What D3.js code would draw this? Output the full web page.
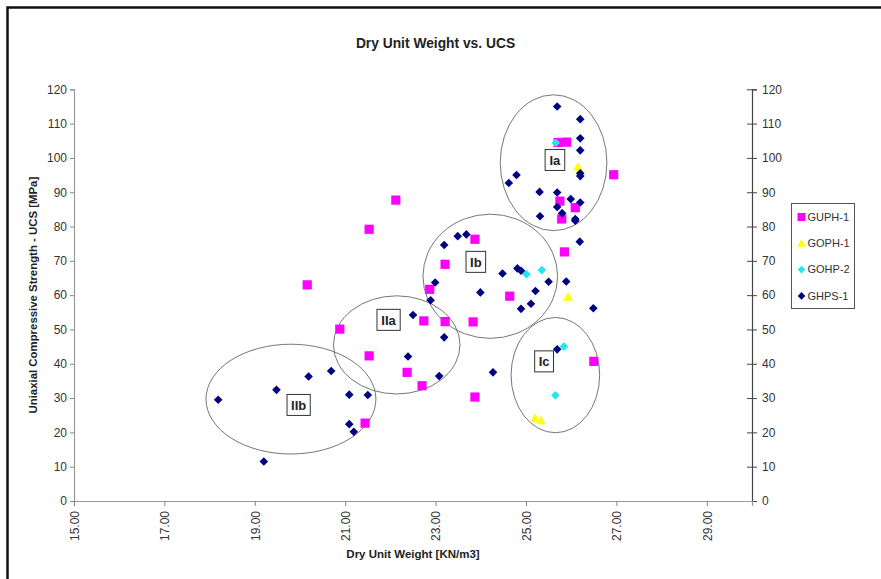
<!DOCTYPE html>
<html>
<head>
<meta charset="utf-8">
<script src="https://cdn.jsdelivr.net/npm/d3@7"></script>
<style>
  html, body { margin: 0; padding: 0; background: #fff; }
  svg { display: block; font-family: "Liberation Sans", Arial, sans-serif; }
</style>
</head>
<body>
<svg id="chart" width="881" height="579"></svg>
<script>
// ---- Data ----
const seriesNames = ["GUPH-1", "GOPH-1", "GOHP-2", "GHPS-1"];

const guph1 = [
  [20.16, 63.0], [21.53, 79.2], [22.12, 87.7], [22.87, 61.7], [23.21, 69.0],
  [23.87, 76.3], [20.88, 50.1], [21.53, 42.3], [21.44, 22.7], [22.37, 37.5],
  [22.70, 33.6], [22.74, 52.5], [23.21, 52.3], [23.83, 52.2], [23.87, 30.3],
  [24.64, 59.7], [25.71, 104.5], [25.90, 104.6], [26.94, 95.1], [25.75, 87.4],
  [26.09, 85.5], [25.79, 82.2], [25.85, 72.6], [26.50, 40.7]
];
const goph1 = [
  [26.15, 97.4], [25.93, 59.5], [25.20, 24.1], [25.33, 23.5]
];
const gohp2 = [
  [25.66, 104.4], [25.01, 66.1], [25.35, 67.3], [25.84, 45.0], [25.65, 30.8]
];
const ghps1 = [
  [25.69, 115.0], [26.20, 111.3], [26.20, 105.7], [26.20, 102.2], [26.20, 95.5],
  [26.20, 94.7], [24.79, 95.0], [24.62, 92.7], [25.30, 90.1], [25.69, 89.9],
  [25.99, 88.0], [26.20, 87.0], [25.69, 85.7], [25.80, 83.9], [25.31, 83.0],
  [26.09, 82.2], [26.09, 81.7], [26.19, 75.6], [23.49, 77.2], [23.68, 77.7],
  [23.19, 74.6], [24.48, 66.3], [24.81, 67.8], [24.89, 67.1], [25.50, 63.9],
  [25.89, 64.0], [23.99, 60.8], [25.21, 61.2], [22.99, 63.7], [22.89, 58.5],
  [25.11, 57.5], [24.89, 56.0], [26.49, 56.2], [22.50, 54.2], [23.19, 47.7],
  [24.27, 37.5], [25.69, 44.2], [23.08, 36.4], [22.39, 42.1], [18.19, 29.5],
  [19.48, 32.4], [20.19, 36.3], [20.69, 37.9], [21.09, 31.0], [21.50, 30.9],
  [21.09, 22.4], [21.19, 20.2], [19.20, 11.5]
];

const xTicks = [15, 17, 19, 21, 23, 25, 27, 29];
const yTicks = [0, 10, 20, 30, 40, 50, 60, 70, 80, 90, 100, 110, 120];

// cluster annotations (data units): label, centre x, centre y, radius x, radius y
const clusterNames = ["Ia", "Ib", "IIa", "IIb", "Ic"];
const clusterEllipses = [
  [25.61, 98.6, 1.18, 19.8],
  [24.21, 65.5, 1.49, 18.1],
  [22.14, 45.5, 1.40, 14.3],
  [19.80, 29.7, 1.88, 16.0],
  [25.65, 36.7, 0.98, 16.8]
];
const clusterLabelPos = [
  [25.64, 99.4], [23.89, 69.7], [21.96, 52.8], [19.97, 28.0], [25.40, 40.7]
];

const titleText = "Dry Unit Weight vs. UCS";
const xLabel = "Dry Unit Weight [KN/m3]";
const yLabel = "Uniaxial Compressive Strength - UCS [MPa]";

// ---- Drawing ----
const svg = d3.select("#chart");
const plot = { left: 74, right: 752, top: 89.3, bottom: 501 };

const x = d3.scaleLinear().domain([15, 30]).range([plot.left, plot.right]);
const y = d3.scaleLinear().domain([0, 120]).range([plot.bottom, plot.top]);

// outer frame
svg.append("rect")
  .attr("x", 7.5).attr("y", 7.5)
  .attr("width", 900).attr("height", 600)
  .attr("fill", "none").attr("stroke", "#111").attr("stroke-width", 2.5);

// title
svg.append("text")
  .attr("x", 435.5).attr("y", 48)
  .attr("text-anchor", "middle")
  .attr("font-size", 13.8).attr("font-weight", "bold").attr("fill", "#222")
  .text(titleText);

// left axis
const yAxisL = d3.axisLeft(y).tickValues(yTicks).tickSize(4).tickPadding(3).tickFormat(d3.format("d"));
const gL = svg.append("g").attr("transform", `translate(${plot.left},0)`).call(yAxisL);
gL.select(".domain").attr("stroke", "#999").attr("stroke-width", 1.2);
gL.selectAll(".tick line").attr("stroke", "#888");
gL.selectAll(".tick text").attr("font-size", 12).attr("fill", "#333").attr("font-family", "Liberation Sans, Arial, sans-serif");

// right axis (ticks crossing)
const yAxisR = d3.axisRight(y).tickValues(yTicks).tickSize(5).tickPadding(5).tickFormat(d3.format("d"));
const gR = svg.append("g").attr("transform", `translate(${plot.right},0)`).call(yAxisR);
gR.select(".domain").attr("stroke", "#444").attr("stroke-width", 1.2);
gR.selectAll(".tick line").attr("x1", -5).attr("stroke", "#444");
gR.selectAll(".tick text").attr("font-size", 12).attr("fill", "#333").attr("font-family", "Liberation Sans, Arial, sans-serif");

// bottom axis
const xAxis = d3.axisBottom(x).tickValues(xTicks).tickSize(5).tickFormat(d3.format(".2f"));
const gB = svg.append("g").attr("transform", `translate(0,${plot.bottom})`).call(xAxis);
gB.select(".domain").attr("stroke", "#999").attr("stroke-width", 1.2);
gB.selectAll(".tick line").attr("stroke", "#888");
gB.selectAll(".tick text")
  .attr("font-size", 12).attr("fill", "#333").attr("font-family", "Liberation Sans, Arial, sans-serif")
  .attr("text-anchor", "end")
  .attr("dy", "0.35em")
  .attr("transform", "translate(0,2) rotate(-90)")
  .attr("x", -8).attr("y", 0);

// axis titles
svg.append("text")
  .attr("x", x(22.5)).attr("y", 557.5)
  .attr("text-anchor", "middle")
  .attr("font-size", 11.5).attr("font-weight", "bold").attr("fill", "#222")
  .text(xLabel);
svg.append("text")
  .attr("transform", `translate(37,${(plot.top + plot.bottom) / 2}) rotate(-90)`)
  .attr("text-anchor", "middle")
  .attr("font-size", 11.4).attr("font-weight", "bold").attr("fill", "#222")
  .text(yLabel);

// ellipses
const gE = svg.append("g");
gE.selectAll("ellipse").data(clusterEllipses).join("ellipse")
  .attr("cx", d => x(d[0]))
  .attr("cy", d => y(d[1]))
  .attr("rx", d => x(d[0] + d[2]) - x(d[0]))
  .attr("ry", d => y(d[1]) - y(d[1] + d[3]))
  .attr("fill", "none").attr("stroke", "#666").attr("stroke-width", 0.9);

// marker generators
const squarePath = s => `M${-s},${-s}H${s}V${s}H${-s}Z`;
const diamondPath = s => `M0,${-s}L${s},0L0,${s}L${-s},0Z`;
const trianglePath = s => `M0,${-s}L${s},${s * 0.8}L${-s},${s * 0.8}Z`;

const seriesDefs = [
  { data: guph1, color: "#FF00FF", path: squarePath(4.6) },
  { data: goph1, color: "#FFFF00", path: trianglePath(4.8) },
  { data: gohp2, color: "#22E6EE", path: diamondPath(4.3) },
  { data: ghps1, color: "#000080", path: diamondPath(4.3) }
];

seriesDefs.forEach(s => {
  svg.append("g").selectAll("path").data(s.data).join("path")
    .attr("transform", d => `translate(${x(d[0])},${y(d[1])})`)
    .attr("d", s.path)
    .attr("fill", s.color);
});

// cluster label boxes
const gLab = svg.append("g");
clusterNames.forEach((name, i) => {
  const cx = x(clusterLabelPos[i][0]), cy = y(clusterLabelPos[i][1]);
  const t = gLab.append("text")
    .attr("x", cx).attr("y", cy)
    .attr("text-anchor", "middle").attr("dy", "0.36em")
    .attr("font-size", 13).attr("font-weight", "bold").attr("fill", "#222")
    .text(name);
  const bb = t.node().getBBox();
  gLab.insert("rect", "text")
    .attr("x", cx - bb.width / 2 - 4).attr("y", cy - 10.5)
    .attr("width", bb.width + 8).attr("height", 21)
    .attr("fill", "#fff").attr("stroke", "#333").attr("stroke-width", 1);
});

// legend
const legend = svg.append("g").attr("transform", "translate(791.5,203.5)");
legend.append("rect")
  .attr("width", 63).attr("height", 105)
  .attr("fill", "#fff").attr("stroke", "#555").attr("stroke-width", 1);
seriesNames.forEach((name, i) => {
  const ly = 13.5 + i * 26.3;
  legend.append("path")
    .attr("transform", `translate(10,${ly})`)
    .attr("d", i === 0 ? squarePath(4) : i === 1 ? trianglePath(4.2) : diamondPath(3.8))
    .attr("fill", seriesDefs[i].color);
  legend.append("text")
    .attr("x", 16).attr("y", ly).attr("dy", "0.35em")
    .attr("font-size", 11).attr("fill", "#333")
    .text(name);
});
</script>
</body>
</html>
